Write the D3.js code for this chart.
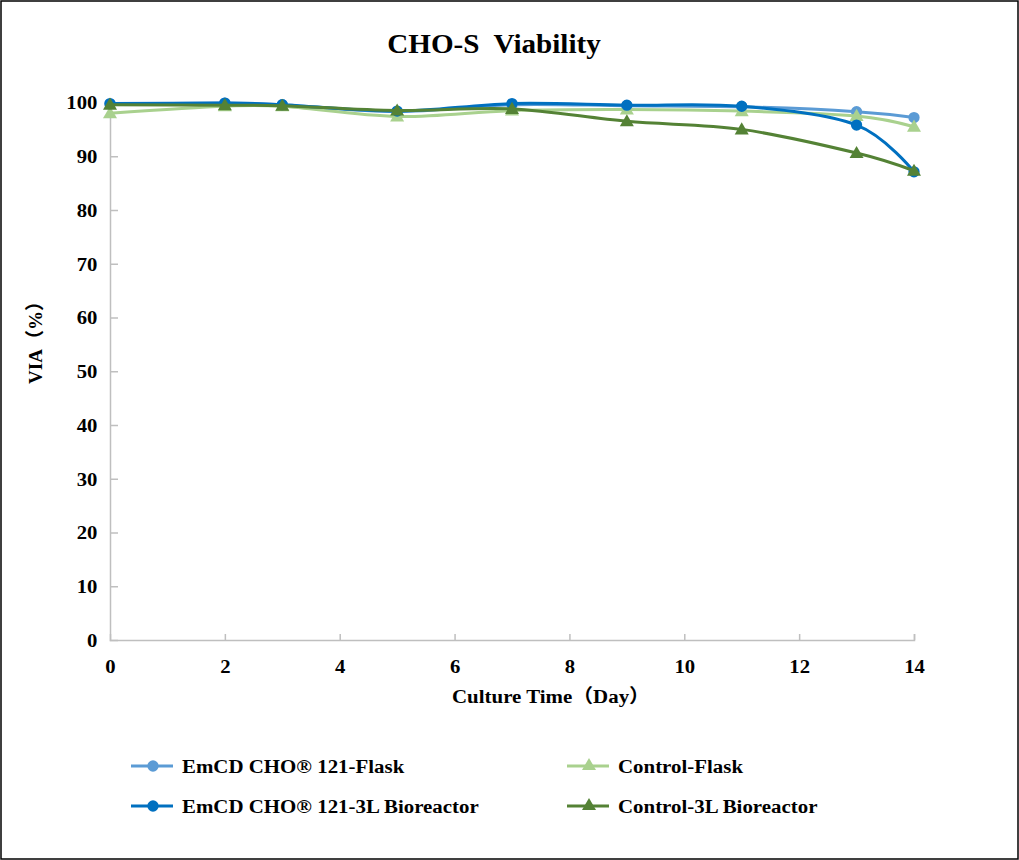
<!DOCTYPE html>
<html><head><meta charset="utf-8">
<script src="https://cdn.jsdelivr.net/npm/d3@7"></script>
<style>body{margin:0;background:#fff}svg{display:block}</style>
</head><body>
<script>
const days = [0, 2, 3, 5, 7, 9, 11, 13, 14];
const emcdFlask = [99.7, 99.9, 99.6, 98.3, 99.6, 99.4, 99.2, 98.3, 97.2];
const controlFlask = [98.0, 99.3, 99.3, 97.4, 98.5, 98.7, 98.4, 97.5, 95.5];
const emcd3L = [99.8, 99.9, 99.6, 98.4, 99.8, 99.5, 99.3, 95.8, 87.1];
const control3L = [99.6, 99.5, 99.4, 98.5, 98.8, 96.5, 95.0, 90.6, 87.3];
const xTicks = [0, 2, 4, 6, 8, 10, 12, 14];
const yTicks = [0, 10, 20, 30, 40, 50, 60, 70, 80, 90, 100];
const seriesNames = ["EmCD CHO® 121-Flask", "Control-Flask", "EmCD CHO® 121-3L Bioreactor", "Control-3L Bioreactor"];

const W = 1019, H = 860;
const serif = '"Liberation Serif","Times New Roman","Noto Sans CJK SC",serif';
const svg = d3.select("body").append("svg").attr("width", W).attr("height", H);
svg.append("rect").attr("x", 1).attr("y", 1).attr("width", W - 2).attr("height", H - 2)
  .attr("fill", "#fff").attr("stroke", "#000").attr("stroke-width", 1.5);

const x = d3.scaleLinear().domain([0, 14]).range([110, 914]);
const y = d3.scaleLinear().domain([0, 100]).range([640, 102.5]);

function label(px, py, txt, size, sx, anchor, rot) {
  const g = svg.append("g").attr("transform", `translate(${px},${py})` + (rot ? ` rotate(${rot})` : "") + ` scale(${sx},1)`);
  return g.append("text").attr("text-anchor", anchor || "start")
    .style("font-family", serif).style("font-weight", "bold").style("font-size", size + "px")
    .attr("xml:space", "preserve").text(txt);
}

const axisCol = "#bfbfbf";
const gx = svg.append("g").attr("transform", "translate(0,640)")
  .call(d3.axisBottom(x).tickValues(xTicks).tickSize(-6).tickPadding(20).tickFormat(d3.format("d")));
const gy = svg.append("g").attr("transform", "translate(110,0)")
  .call(d3.axisLeft(y).tickValues(yTicks).tickSize(-8).tickPadding(11).tickFormat(d3.format("d")));
[gx, gy].forEach(g => {
  g.select(".domain").attr("stroke", axisCol).attr("stroke-width", 1.5);
  g.selectAll(".tick line").attr("stroke", axisCol).attr("stroke-width", 1.5);
  g.selectAll(".tick text").attr("fill", "#000").style("font-family", serif)
    .style("font-weight", "bold").style("font-size", "18px").attr("transform", "scale(1.15,1)");
});
gy.selectAll(".tick line").filter(d => d === 0 || d === 100).remove();
gx.selectAll(".tick line").filter(d => d === 0).remove();
gy.selectAll(".tick text").attr("dy", "0.35em");

label(494, 53, "CHO-S  Viability", 28, 1.04, "middle");
label(551, 703, "Culture Time（Day）", 19, 1.1, "middle");
label(42, 338, "VIA（%）", 19, 1.0, "middle", -90);

const series = [
  { name: seriesNames[0], values: emcdFlask, color: "#5b9bd5", marker: "circle" },
  { name: seriesNames[1], values: controlFlask, color: "#a9d18e", marker: "triangle" },
  { name: seriesNames[2], values: emcd3L, color: "#0070c0", marker: "circle" },
  { name: seriesNames[3], values: control3L, color: "#548235", marker: "triangle" }
];

const line = d3.line().x(d => x(d[0])).y(d => y(d[1])).curve(d3.curveCardinal.tension(0));
const sym = m => d3.symbol().type(m === "circle" ? d3.symbolCircle : d3.symbolTriangle)
  .size(m === "circle" ? 100 : 85)();

series.forEach(s => {
  const pts = days.map((d, i) => [d, s.values[i]]);
  const g = svg.append("g");
  g.append("path").attr("d", line(pts)).attr("fill", "none").attr("stroke", s.color).attr("stroke-width", 3);
  g.selectAll("path.m").data(pts).enter().append("path").attr("class", "m")
    .attr("d", sym(s.marker))
    .attr("transform", d => `translate(${x(d[0])},${y(d[1]) + (s.marker === "triangle" ? 1 : 0)})`)
    .attr("fill", s.color);
});

const legPos = [[131, 766], [567, 766], [131, 806], [567, 806]];
series.forEach((s, i) => {
  const [lx, ly] = legPos[i];
  svg.append("line").attr("x1", lx).attr("x2", lx + 42).attr("y1", ly).attr("y2", ly)
    .attr("stroke", s.color).attr("stroke-width", 3);
  svg.append("path").attr("d", sym(s.marker))
    .attr("transform", `translate(${lx + 22},${ly})`).attr("fill", s.color);
  label(lx + 51, ly, s.name, 19, 1.1).attr("dy", "0.35em");
});
</script>
</body></html>
